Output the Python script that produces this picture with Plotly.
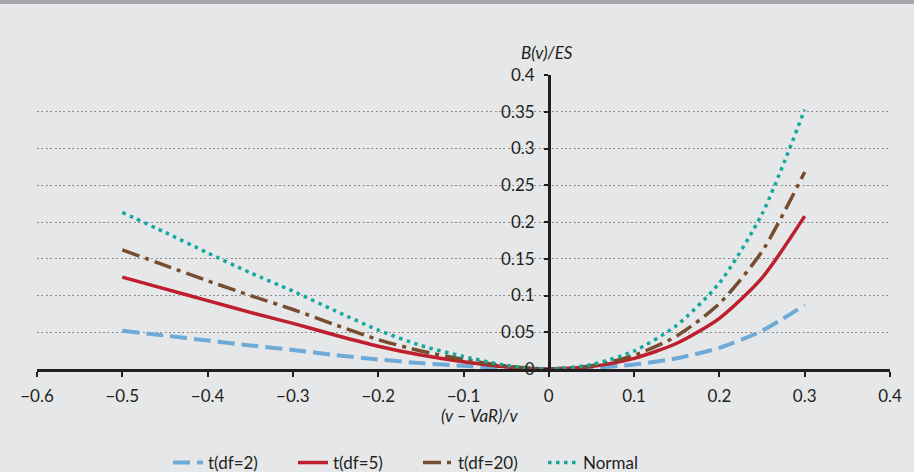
import plotly.graph_objects as go

# ---- data ----
x_vals = [-0.5, -0.45, -0.4, -0.35, -0.3, -0.25, -0.2, -0.15, -0.1, -0.05, 0.0,
          0.05, 0.1, 0.15, 0.2, 0.25, 0.3]
t_df2 = [0.052, 0.0455, 0.0388, 0.032, 0.026, 0.019, 0.013, 0.008, 0.0043, 0.0013, 0.0,
         0.0015, 0.006, 0.0146, 0.0288, 0.052, 0.087]
t_df5 = [0.125, 0.109, 0.093, 0.077, 0.062, 0.046, 0.031, 0.019, 0.010, 0.003, 0.0,
         0.0035, 0.0145, 0.035, 0.069, 0.124, 0.208]
t_df20 = [0.162, 0.141, 0.120, 0.100, 0.081, 0.060, 0.040, 0.0245, 0.013, 0.004, 0.0,
          0.0045, 0.0187, 0.045, 0.089, 0.160, 0.268]
normal = [0.213, 0.186, 0.158, 0.131, 0.106, 0.079, 0.053, 0.032, 0.017, 0.005, 0.0,
          0.006, 0.0245, 0.0595, 0.117, 0.211, 0.353]

series_names = ["t(df=2)", "t(df=5)", "t(df=20)", "Normal"]
x_ticks = [-0.6, -0.5, -0.4, -0.3, -0.2, -0.1, 0, 0.1, 0.2, 0.3, 0.4]
x_tick_text = ["\u22120.6", "\u22120.5", "\u22120.4", "\u22120.3", "\u22120.2", "\u22120.1",
               "0", "0.1", "0.2", "0.3", "0.4"]
y_ticks = [0, 0.05, 0.1, 0.15, 0.2, 0.25, 0.3, 0.35, 0.4]
y_tick_text = ["0", "0.05", "0.1", "0.15", "0.2", "0.25", "0.3", "0.35", "0.4"]
x_title = "(v \u2013 VaR)/v"
y_title = "B(v)/ES"

# ---- styles ----
BG = "#E6E7E8"
INK = "#231F20"
FONT = "Lato"
styles = [
    dict(color="#6EAAD7", width=4, dash="17px,7px"),
    dict(color="#BE1E2D", width=3.5, dash="solid"),
    dict(color="#774D2F", width=3.5, dash="18px,6px,4px,6px"),
    dict(color="#14A89E", width=3.5, dash="3.5px,4.5px"),
]

fig = go.Figure()
for name, ys, st in zip(series_names, [t_df2, t_df5, t_df20, normal], styles):
    fig.add_trace(go.Scatter(x=x_vals, y=ys, mode="lines", name=name,
                             line=dict(shape="spline", smoothing=0.7, **st)))

W, H = 914, 472
L, R, T, B = 37, 24, 75, 103
ph = H - T - B

def py(pix):  # pixel row -> paper y
    return (H - B - pix) / ph

def px(pix):  # pixel column -> paper x
    return (pix - L) / (W - L - R)

fig.update_layout(
    width=W, height=H,
    margin=dict(l=L, r=R, t=T, b=B, autoexpand=False),
    paper_bgcolor=BG, plot_bgcolor=BG,
    font=dict(family=FONT, size=17, color=INK),
    showlegend=True,
    legend=dict(orientation="h", x=px(168), xanchor="left", y=py(463), yanchor="middle",
                bgcolor="rgba(0,0,0,0)", font=dict(family=FONT, size=17, color=INK),
                entrywidth=80, entrywidthmode="pixels"),
    xaxis=dict(range=[-0.6, 0.4], tickmode="array", tickvals=x_ticks, ticktext=x_tick_text,
               showline=True, linecolor=INK, linewidth=2.5, ticks="outside", ticklen=5,
               tickwidth=2, tickcolor=INK, showgrid=False, zeroline=False,
               tickfont=dict(family=FONT, size=17, color=INK), ticklabelstandoff=5),
    yaxis=dict(range=[0, 0.4], anchor="free", position=0.6, tickmode="array",
               tickvals=y_ticks, ticktext=y_tick_text,
               showline=True, linecolor=INK, linewidth=2.5, ticks="outside", ticklen=4,
               tickwidth=2, tickcolor=INK, showgrid=True, gridcolor="#8C8D90",
               griddash="2px,2.4px", gridwidth=1.4, zeroline=False,
               tickfont=dict(family=FONT, size=17, color=INK), ticklabelstandoff=6),
    shapes=[dict(type="rect", xref="paper", yref="paper", x0=-0.1, x1=1.1,
                 y0=py(4), y1=py(-2), fillcolor="#A3A5A8", line=dict(width=0), layer="above")],
    annotations=[
        dict(text="<i>" + y_title + "</i>", xref="paper", yref="paper", x=px(547), y=py(52),
             xanchor="center", yanchor="middle", showarrow=False,
             font=dict(family=FONT, size=17, color=INK)),
        dict(text="<i>" + x_title + "</i>", xref="paper", yref="paper", x=px(480), y=py(415),
             xanchor="center", yanchor="middle", showarrow=False,
             font=dict(family=FONT, size=17, color=INK)),
    ],
)

fig.write_html("out.html")
